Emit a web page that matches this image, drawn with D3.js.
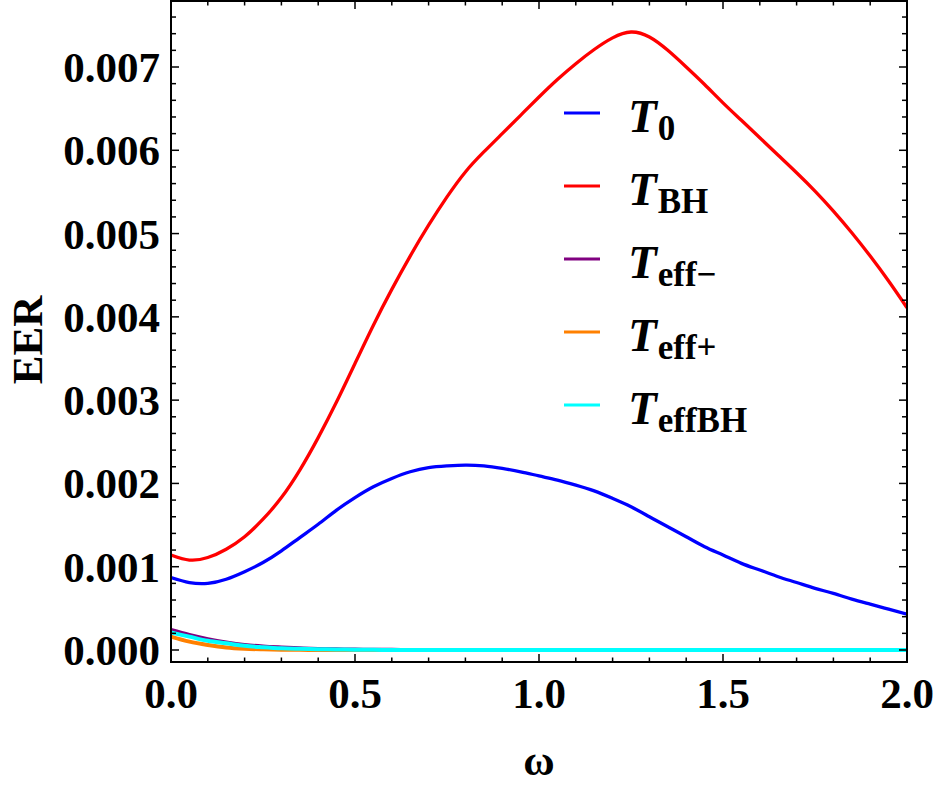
<!DOCTYPE html>
<html><head><meta charset="utf-8">
<script src="https://cdn.jsdelivr.net/npm/d3@7"></script>
<style>body{margin:0;background:#fff}svg{display:block}</style>
</head><body>
<svg id="chart" width="938" height="790"></svg>
<script>
const omega = [0,0.05,0.1,0.15,0.2,0.25,0.3,0.35,0.4,0.45,0.5,0.55,0.6,0.65,0.7,0.75,0.8,0.85,0.9,0.95,1.0,1.05,1.1,1.15,1.2,1.25,1.3,1.35,1.4,1.45,1.5,1.55,1.6,1.65,1.7,1.75,1.8,1.85,1.9,1.95,2.0];
const T0 = [0.00087,0.00081,0.00080,0.00085,0.00094,0.00105,0.00119,0.00135,0.00151,0.00168,0.00183,0.00196,0.00206,0.00214,0.00219,0.00221,0.00222,0.00221,0.00218,0.00214,0.00209,0.00204,0.00198,0.00191,0.00182,0.00172,0.00160,0.00148,0.00136,0.00124,0.00114,0.00104,0.00096,0.00088,0.00081,0.00074,0.00068,0.00061,0.00055,0.00049,0.00043];
const TBH = [0.00114,0.00108,0.00111,0.00121,0.00136,0.00157,0.00183,0.00216,0.00255,0.00298,0.00344,0.00390,0.00433,0.00473,0.00510,0.00544,0.00574,0.00598,0.00620,0.00642,0.00664,0.00685,0.00704,0.00721,0.00735,0.00742,0.00736,0.00720,0.00700,0.00679,0.00657,0.00636,0.00615,0.00594,0.00573,0.00551,0.00527,0.00501,0.00473,0.00443,0.00411];
const TeffMinus = [0.00024,0.00018,0.00013,0.00009,0.00006,0.000042,0.00003,0.00002,0.000012,0.000008,0.000005,0.000003,0.000002,0.000001,0,0,0,0,0,0,0,0,0,0,0,0,0,0,0,0,0,0,0,0,0,0,0,0,0,0,0];
const TeffPlus = [0.00016,0.00010,0.00006,0.00003,0.000015,0.000008,0.000004,0.000002,0.000001,0,0,0,0,0,0,0,0,0,0,0,0,0,0,0,0,0,0,0,0,0,0,0,0,0,0,0,0,0,0,0,0];
const TeffBH = [0.00021,0.00016,0.00011,0.00008,0.00005,0.000033,0.00002,0.000014,0.00001,0.000006,0.000004,0.000002,0.000001,0,0,0,0,0,0,0,0,0,0,0,0,0,0,0,0,0,0,0,0,0,0,0,0,0,0,0,0];
const seriesNames = ["T0","TBH","Teff-","Teff+","TeffBH"];
const seriesMain = ["T","T","T","T","T"];
const seriesSub = ["0","BH","eff\u2212","eff+","effBH"];
const seriesColors = ["#0000ff","#ff0000","#800080","#ff8000","#00ffff"];
const seriesValues = [T0,TBH,TeffMinus,TeffPlus,TeffBH];
const xTicks = [0,0.5,1.0,1.5,2.0];
const yTicks = [0,0.001,0.002,0.003,0.004,0.005,0.006,0.007];

const L=171, R=907, T=1, B=662;
const svg = d3.select("#chart");
const x = d3.scaleLinear().domain([0,2]).range([L,R]);
const y = d3.scaleLinear().domain([0,0.007]).range([650,67]);
const font = "'Liberation Serif','Times New Roman',serif";

svg.append("clipPath").attr("id","clip").append("rect")
  .attr("x",L).attr("y",T).attr("width",R-L).attr("height",B-T);

const g = svg.append("g").attr("clip-path","url(#clip)");
seriesValues.forEach((vals,k)=>{
  const line = d3.line().x((d,i)=>x(omega[i])).y(d=>y(d))
    .curve(k>=2 ? d3.curveMonotoneX : d3.curveNatural);
  g.append("path").attr("d",line(vals)).attr("fill","none")
   .attr("stroke",seriesColors[k]).attr("stroke-width",k>=2?4:3.3).attr("stroke-linejoin","round");
});

// frame & ticks
const minorX = d3.range(0,2.0001,0.1);
const minorY = d3.range(-0.0002,0.00781,0.0002);
const fr = svg.append("g").attr("stroke","#000");
fr.append("rect").attr("x",L).attr("y",T).attr("width",R-L).attr("height",B-T)
  .attr("fill","none").attr("stroke-width",2);
minorX.forEach(v=>{
  const major = Math.abs(v*2-Math.round(v*2))<1e-6;
  const len = major?8:4.5;
  fr.append("line").attr("x1",x(v)).attr("x2",x(v)).attr("y1",B).attr("y2",B-len).attr("stroke-width",1.5);
  fr.append("line").attr("x1",x(v)).attr("x2",x(v)).attr("y1",T).attr("y2",T+len).attr("stroke-width",1.5);
});
minorY.forEach(v=>{
  if (y(v)>B || y(v)<T) return;
  const major = Math.abs(v*1000-Math.round(v*1000))<1e-6;
  const len = major?8:5;
  fr.append("line").attr("x1",L).attr("x2",L+len).attr("y1",y(v)).attr("y2",y(v)).attr("stroke-width",1.5);
  fr.append("line").attr("x1",R).attr("x2",R-len).attr("y1",y(v)).attr("y2",y(v)).attr("stroke-width",1.5);
});

// tick labels
svg.append("g").selectAll("text").data(xTicks).join("text")
  .attr("x",d=>x(d)).attr("y",708).attr("text-anchor","middle")
  .attr("font-family",font).attr("font-weight","bold").attr("font-size",43)
  .text(d=>d3.format(".1f")(d));
svg.append("g").selectAll("text").data(yTicks).join("text")
  .attr("x",160).attr("y",d=>y(d)).attr("dy","0.35em").attr("text-anchor","end")
  .attr("font-family",font).attr("font-weight","bold").attr("font-size",43)
  .text(d=>d3.format(".3f")(d));

// axis titles
svg.append("text").attr("x",539).attr("y",775).attr("text-anchor","middle")
  .attr("font-family",font).attr("font-weight","bold").attr("font-size",43).text("\u03c9");
svg.append("text").attr("transform","translate(42,340) rotate(-90)").attr("text-anchor","middle")
  .attr("font-family",font).attr("font-weight","bold").attr("font-size",43).text("EER");

// legend
const lg = svg.append("g");
seriesNames.forEach((n,k)=>{
  const cy = 113 + k*73;
  lg.append("line").attr("x1",564).attr("x2",600).attr("y1",cy).attr("y2",cy)
    .attr("stroke",seriesColors[k]).attr("stroke-width",3);
  const t = lg.append("text").attr("x",628).attr("y",cy+19)
    .attr("font-family",font).attr("font-weight","bold").attr("font-size",47);
  t.append("tspan").attr("font-style","italic").text(seriesMain[k]);
  t.append("tspan").attr("font-size",35).attr("dy",8).attr("dx",1).text(seriesSub[k]);
});
</script>
</body></html>
